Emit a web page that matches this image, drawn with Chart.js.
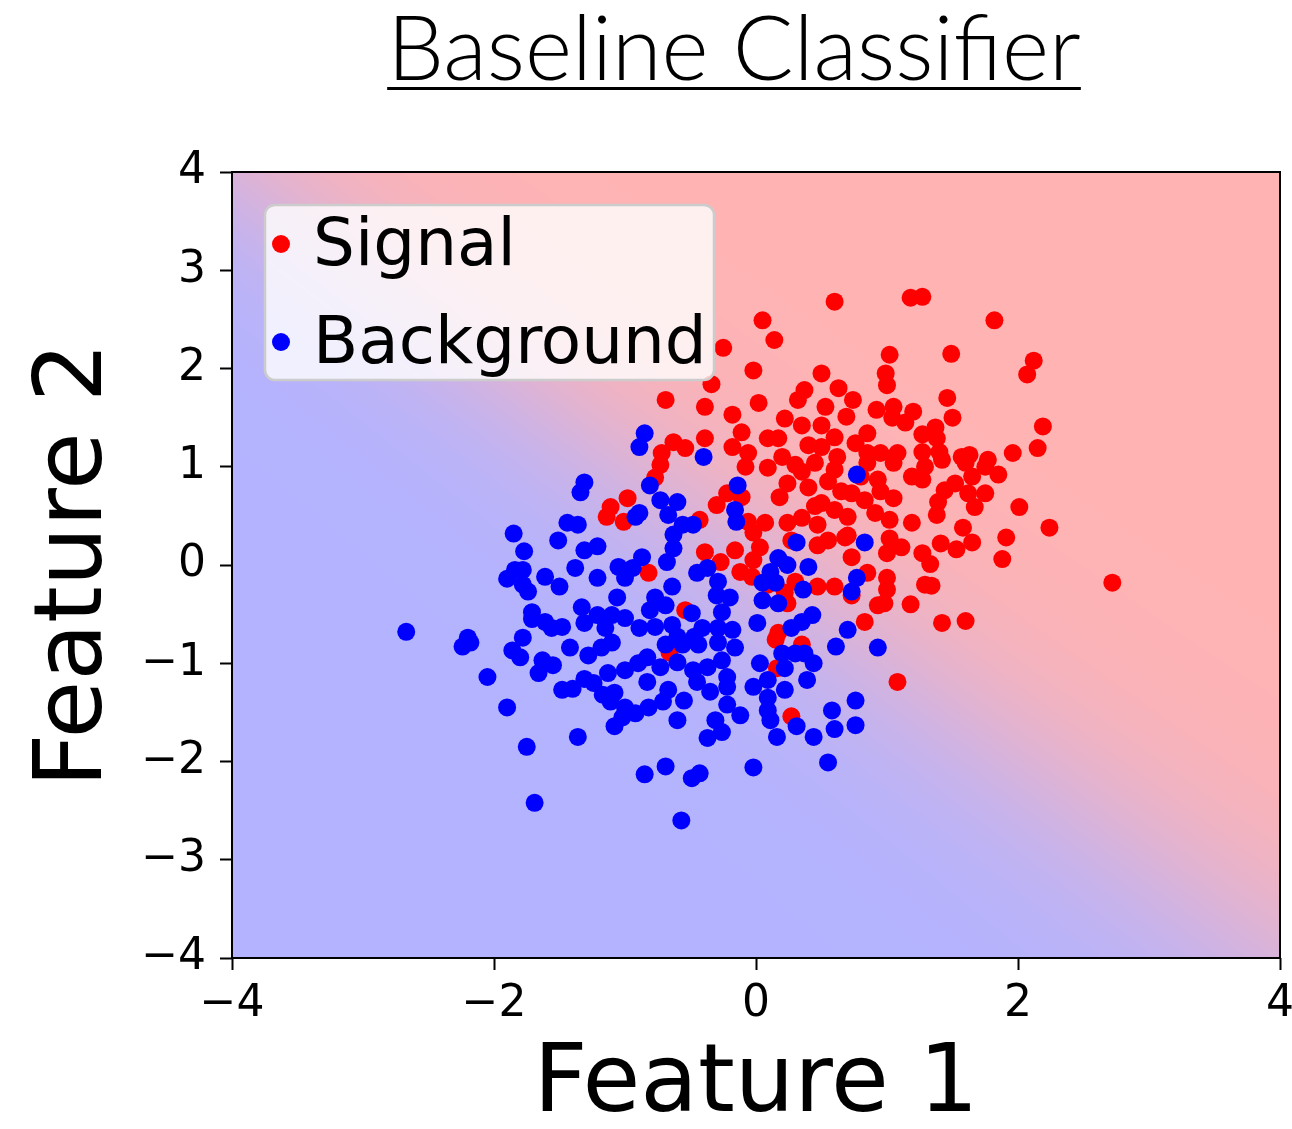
<!DOCTYPE html>
<html>
<head>
<meta charset="utf-8">
<title>Baseline Classifier</title>
<script src="https://cdn.jsdelivr.net/npm/chart.js@4/dist/chart.umd.min.js"></script>
<style>
  body { margin: 0; background: #ffffff; }
  canvas { display: block; }
</style>
</head>
<body>
<canvas id="classifierChart" width="1292" height="1129"></canvas>
<script>
// signal sample (red)
const signalX = [0.60, 1.18, 1.27, 1.82, 0.05, 0.14, -0.25, -0.02, 0.50, -0.34, -0.69, -0.39, 0.02, 0.63, 0.37, 0.32, 0.74, 0.53, 0.99, 1.02,
  0.92, 0.22, 0.35, 0.50, 0.69, -0.18, -0.11, -0.39, -0.63, -0.54, -0.72, 0.09, 0.17, 0.60, 0.85, 0.76, 0.40, -0.18, -0.06, 0.85,
  0.95, 1.49, 2.12, 2.07, 1.00, 1.46, 1.05, 1.20, 1.04, 1.14, 1.50, 2.19, 1.37, 1.27, 1.38, 1.08, 1.27, 1.40, 1.57, 1.63,
  1.77, 1.96, 2.15, 1.05, 1.19, 1.27, 1.29, 1.42, 1.60, 1.75, 1.85, 1.65, 1.75, 1.62, 1.67, 1.52, 1.44, 1.39, 1.38, 1.05,
  1.02, 1.19, 1.02, 1.11, 1.00, 1.58, 1.65, 1.41, 1.53, 1.27, 1.33, 2.01, 2.24, 1.91, 1.88, 1.29, 1.34, 1.00, 1.00, 0.98,
  1.18, 1.42, 1.60, 2.72, -0.73, -0.77, -0.08, 0.09, 0.30, 0.45, 0.60, 0.85, 0.93, 0.18, 0.24, 0.40, 0.50, 0.60, 0.70, 0.83,
  0.73, 0.91, -0.30, -0.22, -0.11, -0.43, -0.06, 0.07, -0.02, 0.24, 0.35, 0.47, 0.27, 0.47, 0.55, 0.68, 0.73, -0.39, -0.27, -0.16,
  0.03, -0.02, -0.12, -0.03, -0.82, 0.30, 0.47, 0.60, 0.73, 0.93, 0.83, 0.85, -0.54, 0.17, 0.09, 0.22, 0.24, -1.11, -1.14, -0.98,
  -1.01, 0.27, 0.15, 0.35, 0.16, -0.66, 1.08, 0.55, 0.65, 0.35, 0.80, 0.45, 0.62, 0.20, 0.70, 0.95, 0.50];
const signalY = [2.68, 2.72, 2.73, 2.49, 2.49, 2.29, 2.21, 1.98, 1.95, 1.84, 1.68, 1.61, 1.65, 1.80, 1.78, 1.68, 1.68, 1.61, 1.95, 2.14,
  1.58, 1.49, 1.42, 1.42, 1.51, 1.53, 1.35, 1.29, 1.25, 1.19, 1.14, 1.29, 1.29, 1.30, 1.34, 1.24, 1.22, 1.20, 1.14, 1.14,
  1.14, 2.15, 2.08, 1.94, 1.83, 1.70, 1.61, 1.56, 1.50, 1.45, 1.50, 1.41, 1.40, 1.33, 1.29, 1.14, 1.15, 1.15, 1.10, 1.12,
  1.07, 1.14, 1.19, 1.04, 0.90, 0.87, 1.00, 1.07, 1.04, 1.00, 0.92, 0.90, 0.73, 0.73, 0.59, 0.83, 0.76, 0.64, 0.51, 0.68,
  0.46, 0.43, 0.27, 0.18, 0.12, 0.38, 0.23, 0.22, 0.16, 0.12, 0.01, 0.59, 0.38, 0.28, 0.06, -0.20, -0.21, -0.13, -0.25, -0.39,
  -0.40, -0.59, -0.57, -0.18, 1.02, 0.89, 1.00, 0.99, 1.02, 1.04, 0.97, 1.04, 0.87, 0.69, 0.83, 0.79, 0.63, 0.56, 0.49, 0.66,
  0.73, 0.53, 0.61, 0.73, 0.69, 0.46, 0.44, 0.43, 0.33, 0.43, 0.48, 0.41, 0.25, 0.20, 0.25, 0.28, 0.08, 0.13, 0.03, 0.15,
  0.18, 0.05, -0.07, -0.12, -0.08, -0.17, -0.22, -0.22, -0.31, -0.41, -0.58, -0.08, -0.46, -0.69, -0.20, -0.28, -0.39, 0.59, 0.49, 0.68,
  0.44, -1.54, -0.76, -0.81, -1.05, -0.89, -1.19, 0.85, 0.75, 0.95, 0.90, 0.60, 1.10, 1.10, 0.30, 0.75, 1.20];

// background sample (blue)
const backgroundX = [-0.85, -0.89, -0.40, -1.31, -1.34, -1.85, -1.77, -1.51, -1.44, -1.36, -1.31, -1.21, -1.38, -1.61, -1.50, -1.90, -1.84, -1.78, -1.78, -1.74,
  -1.21, -1.05, -1.00, -1.06, -1.33, -1.71, -1.71, -1.61, -1.56, -1.48, -1.31, -1.21, -1.10, -1.00, -1.15, -1.78, -2.20, -2.67, -0.92, -0.94,
  -2.24, -2.18, -1.86, -1.80, -1.63, -1.55, -1.66, -1.42, -1.28, -1.18, -1.10, -1.00, -1.13, -2.05, -1.48, -1.40, -1.31, -1.24, -1.17, -1.08,
  -1.11, -1.00, -1.02, -1.08, -1.90, -1.36, -1.75, -1.69, -0.69, -0.56, -0.44, -0.29, -0.16, -0.83, -0.73, -0.60, -0.48, -0.37, -0.26, -0.90,
  -0.83, -0.45, -0.35, -0.22, -0.22, -0.67, -0.71, -0.55, -0.82, -0.92, -0.60, -0.22, -0.12, -0.31, -0.26, -0.37, 0.03, -0.02, 0.09, 0.22,
  0.22, 0.20, 0.30, 0.37, 0.44, 0.39, 0.09, 0.09, 0.11, 0.16, 0.31, 0.44, 0.58, 0.60, 0.76, 0.76, 0.55, 0.61, 0.93, -0.02,
  -0.69, -0.85, -0.43, -0.49, -0.57, 0.77, -0.81, -0.14, -0.73, -0.60, -0.89, -0.67, -0.16, -0.15, -0.56, -0.48, -0.63, -0.63, -0.87, -0.68,
  0.31, 0.83, 0.40, 0.17, 0.24, 0.11, -0.37, -0.45, -0.29, 0.05, 0.15, 0.77, 0.73, 0.36, -0.64, -0.77, -0.30, -0.20, 0.05, 0.17,
  -0.69, -0.81, -0.26, -0.49, 0.43, 0.35, 0.01, 0.27, -0.64, -0.89, -0.77, -0.41, -0.29, -0.18, 0.70, -0.60, -0.47];
const backgroundY = [1.34, 1.20, 1.10, 0.84, 0.74, 0.32, 0.14, 0.25, 0.43, 0.41, 0.15, 0.19, -0.03, -0.12, -0.22, -0.14, -0.05, -0.05, -0.20, -0.27,
  -0.13, -0.02, -0.13, -0.33, -0.43, -0.48, -0.55, -0.58, -0.64, -0.63, -0.59, -0.51, -0.51, -0.54, -0.64, -0.74, -0.74, -0.68, 0.49, -0.03,
  -0.83, -0.79, -0.87, -0.94, -0.97, -1.02, -1.10, -0.84, -0.92, -0.84, -0.79, -1.07, -1.10, -1.14, -1.27, -1.26, -1.16, -1.20, -1.32, -1.30,
  -1.39, -1.45, -1.55, -1.64, -1.45, -1.75, -1.85, -2.42, -0.81, -0.81, -0.81, -0.79, -0.84, -0.94, -1.04, -0.99, -1.07, -1.04, -0.97, -1.00,
  -1.19, -1.19, -1.29, -1.14, -1.24, -1.27, -1.39, -1.38, -1.45, -1.51, -1.58, -1.42, -1.53, -1.58, -1.70, -1.76, -1.00, -1.24, -1.17, -1.27,
  -1.05, -0.90, -0.90, -0.90, -1.00, -1.17, -1.35, -1.48, -1.58, -1.75, -1.64, -1.75, -1.48, -1.67, -1.38, -1.63, -2.01, -0.83, -0.84, -2.06,
  -2.05, -2.13, -2.12, -2.17, -2.60, 0.92, 0.81, 0.81, 0.66, 0.64, 0.53, 0.51, 0.56, 0.44, 0.41, 0.41, 0.31, 0.17, 0.08, 0.03,
  0.23, 0.23, -0.02, 0.07, 0.00, -0.07, -0.03, -0.08, -0.17, -0.18, -0.18, -0.13, -0.27, -0.25, -0.22, -0.33, -0.31, -0.33, -0.36, -0.39,
  -0.41, -0.46, -0.48, -0.49, -0.51, -0.58, -0.59, -0.64, -0.61, -0.64, -0.63, -0.64, -0.64, -0.66, -0.66, -0.73, -0.73];

// axis ticks
const xTicks = [-4, -2, 0, 2, 4];
const yTicks = [-4, -3, -2, -1, 0, 1, 2, 3, 4];

// classifier output: z = b + wx*x + wy*y + wxx*x^2 + wyy*y^2, p = sigmoid(z)
const modelWeights = [0.0, 1.65, 1.65, -0.03, 0.03];

const signalColor = '#ff0000';
const backgroundColor = '#0000ff';
const blueTint = [179, 179, 255];
const redTint = [255, 179, 179];

function predict(x, y) {
    const [b, wx, wy, wxx, wyy] = modelWeights;
    const z = b + wx * x + wy * y + wxx * x * x + wyy * y * y;
    return 1 / (1 + Math.exp(-z));
}

function toPoints(xs, ys) {
    return xs.map((x, i) => ({ x: x, y: ys[i] }));
}

function minusLabel(value) {
    return value < 0 ? '\u2212' + Math.abs(value) : String(value);
}

// shaded probability map behind the points
const decisionSurface = {
    id: 'decisionSurface',
    beforeDatasetsDraw(chart) {
        const { ctx, chartArea: a, scales } = chart;
        const w = Math.round(a.right - a.left);
        const h = Math.round(a.bottom - a.top);
        const off = document.createElement('canvas');
        off.width = w;
        off.height = h;
        const octx = off.getContext('2d');
        const img = octx.createImageData(w, h);
        for (let j = 0; j < h; j++) {
            const yv = scales.y.getValueForPixel(a.top + j + 0.5);
            for (let i = 0; i < w; i++) {
                const xv = scales.x.getValueForPixel(a.left + i + 0.5);
                const p = predict(xv, yv);
                const k = (j * w + i) * 4;
                img.data[k] = blueTint[0] + (redTint[0] - blueTint[0]) * p;
                img.data[k + 1] = blueTint[1] + (redTint[1] - blueTint[1]) * p;
                img.data[k + 2] = blueTint[2] + (redTint[2] - blueTint[2]) * p;
                img.data[k + 3] = 255;
            }
        }
        octx.putImageData(img, 0, 0);
        ctx.drawImage(off, a.left, a.top);
    },
    afterDatasetsDraw(chart) {
        const { ctx, chartArea: a } = chart;
        ctx.save();
        ctx.strokeStyle = '#000000';
        ctx.lineWidth = 2;
        ctx.strokeRect(a.left, a.top, a.right - a.left, a.bottom - a.top);
        ctx.restore();
    }
};

// underlined title and the legend box in the upper left corner
const decorations = {
    id: 'decorations',
    afterDraw(chart) {
        const { ctx, chartArea: a } = chart;
        ctx.save();

        const title = 'Baseline Classifier';
        ctx.font = '300 90px Lato, "Open Sans", sans-serif';
        ctx.fillStyle = '#000000';
        ctx.textAlign = 'center';
        ctx.textBaseline = 'alphabetic';
        const cx = 734;
        ctx.fillText(title, cx, 80);
        const tw = ctx.measureText(title).width;
        ctx.fillRect(cx - tw / 2, 87, tw, 3);

        // legend
        const bx = a.left + 33, by = a.top + 33, bw = 449, bh = 175, r = 10;
        ctx.beginPath();
        ctx.moveTo(bx + r, by);
        ctx.arcTo(bx + bw, by, bx + bw, by + bh, r);
        ctx.arcTo(bx + bw, by + bh, bx, by + bh, r);
        ctx.arcTo(bx, by + bh, bx, by, r);
        ctx.arcTo(bx, by, bx + bw, by, r);
        ctx.closePath();
        ctx.fillStyle = 'rgba(255,255,255,0.8)';
        ctx.fill();
        ctx.strokeStyle = '#cccccc';
        ctx.lineWidth = 2.5;
        ctx.stroke();

        const items = [['Signal', signalColor], ['Background', backgroundColor]];
        ctx.font = '66px "DejaVu Sans"';
        ctx.textAlign = 'left';
        items.forEach(([label, color], i) => {
            const rowY = by + 39 + i * 98;
            ctx.beginPath();
            ctx.arc(bx + 16, rowY, 9, 0, Math.PI * 2);
            ctx.fillStyle = color;
            ctx.fill();
            ctx.fillStyle = '#000000';
            ctx.fillText(label, bx + 48, rowY + 21);
        });
        ctx.restore();
    }
};

const tickFont = { family: 'DejaVu Sans', size: 44 };
const titleFont = { family: 'DejaVu Sans', size: 94, lineHeight: 0.9 };

new Chart(document.getElementById('classifierChart'), {
    type: 'scatter',
    data: {
        datasets: [
            {
                label: 'Signal',
                data: toPoints(signalX, signalY),
                backgroundColor: signalColor,
                borderWidth: 0,
                pointRadius: 9,
                order: 1
            },
            {
                label: 'Background',
                data: toPoints(backgroundX, backgroundY),
                backgroundColor: backgroundColor,
                borderWidth: 0,
                pointRadius: 9,
                order: 0
            }
        ]
    },
    options: {
        responsive: false,
        animation: false,
        devicePixelRatio: 1,
        layout: { padding: { top: 172, right: 12, left: 0, bottom: 0 } },
        plugins: {
            legend: { display: false },
            tooltip: { enabled: false }
        },
        scales: {
            x: {
                type: 'linear',
                min: -4,
                max: 4,
                afterBuildTicks: (scale) => { scale.ticks = xTicks.map(v => ({ value: v })); },
                afterFit: (scale) => { scale.height = 171; scale.paddingLeft = 0; scale.paddingRight = 0; },
                ticks: { font: tickFont, color: '#000000', padding: 8, maxRotation: 0, callback: minusLabel },
                grid: { drawOnChartArea: false, tickLength: 12, tickWidth: 2, tickColor: '#000000' },
                border: { display: false },
                title: { display: true, text: 'Feature 1', font: titleFont, color: '#000000', padding: { top: 0, bottom: 0 } }
            },
            y: {
                type: 'linear',
                min: -4,
                max: 4,
                afterBuildTicks: (scale) => { scale.ticks = yTicks.map(v => ({ value: v })); },
                afterFit: (scale) => { scale.width = 232; scale.paddingTop = 0; scale.paddingBottom = 0; },
                ticks: { font: tickFont, color: '#000000', padding: 14, callback: minusLabel },
                grid: { drawOnChartArea: false, tickLength: 12, tickWidth: 2, tickColor: '#000000' },
                border: { display: false },
                title: { display: true, text: 'Feature 2', font: titleFont, color: '#000000', padding: { top: 34, bottom: 0 } }
            }
        }
    },
    plugins: [decisionSurface, decorations]
});
</script>
</body>
</html>
